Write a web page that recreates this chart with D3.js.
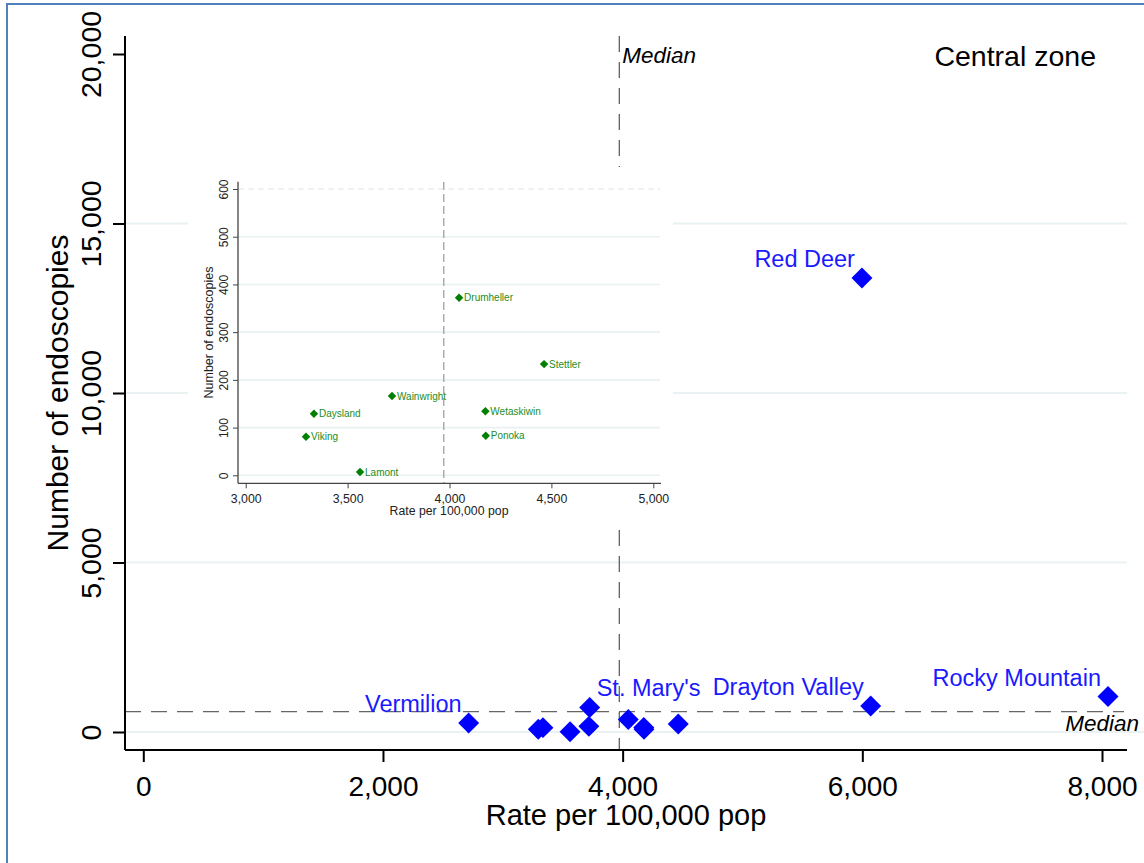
<!DOCTYPE html>
<html>
<head>
<meta charset="utf-8">
<script src="https://cdn.jsdelivr.net/npm/d3@7"></script>
<style>
  html, body { margin: 0; padding: 0; background: #fff; }
  svg { display: block; }
  text { font-family: "Liberation Sans", Arial, sans-serif; }
</style>
</head>
<body>
<svg id="chart" width="1144" height="863"></svg>
<script>
// ---------- data ----------
const places = ["Red Deer", "Rocky Mountain", "Drayton Valley", "St. Mary's", "Vermilion",
                "Drumheller", "Stettler", "Wainwright", "Daysland", "Viking", "Lamont", "Wetaskiwin", "Ponoka"];
const rates  = [5997, 8050, 6070, 3725, 2715, 4047, 4464, 3718, 3335, 3296, 3561, 4176, 4178];
const counts = [13390, 1047, 770, 725, 265, 372, 233, 166, 129, 81, 7, 134, 83];
const mainLabeled = ["Red Deer", "Rocky Mountain", "Drayton Valley", "St. Mary's", "Vermilion"];
const mainLabelSide = ["left", "left", "left", "right", "left"];
const medianRate = 3972;
const medianCount = 600;

const xTicks = [0, 2000, 4000, 6000, 8000];
const yTicks = [0, 5000, 10000, 15000, 20000];
const yGrid = [0, 5000, 10000, 15000];
const insetXTicks = [3000, 3500, 4000, 4500, 5000];
const insetYTicks = [0, 100, 200, 300, 400, 500, 600];
const insetYGrid = [0, 100, 200, 300, 400, 500];

const rows = places.map((p, i) => ({ place: p, rate: rates[i], count: counts[i] }));

const svg = d3.select("#chart");
const fmt = d3.format(",");

// frame (partially visible border)
svg.append("path").attr("d", "M7,863 V4 H1144")
  .attr("fill", "none").attr("stroke", "#4f81bd").attr("stroke-width", 2);

// ---------- main chart ----------
const x = d3.scaleLinear().domain([0, 8000]).range([143.3, 1102]);
const y = d3.scaleLinear().domain([0, 20000]).range([732, 54]);
const axX = 125, axY = 750;

// gridlines
svg.append("g").selectAll("line").data(yGrid).join("line")
  .attr("x1", axX).attr("x2", d => d === 0 ? 1144 : 1127)
  .attr("y1", d => y(d)).attr("y2", d => y(d))
  .attr("stroke", "#e9f1f3").attr("stroke-width", 2.2);

// median lines
svg.append("line").attr("x1", x(medianRate)).attr("x2", x(medianRate))
  .attr("y1", 36).attr("y2", axY)
  .attr("stroke", "#555").attr("stroke-width", 1.2).attr("stroke-dasharray", "16,10");
svg.append("line").attr("x1", axX).attr("x2", 1124)
  .attr("y1", y(medianCount)).attr("y2", y(medianCount))
  .attr("stroke", "#666").attr("stroke-width", 1.2).attr("stroke-dasharray", "16,10");

svg.append("text").attr("x", x(medianRate) + 3).attr("y", 63)
  .attr("font-size", 22.5).attr("font-style", "italic").attr("fill", "#000").text("Median");
svg.append("text").attr("x", 1139).attr("y", 731).attr("text-anchor", "end")
  .attr("font-size", 22.5).attr("font-style", "italic").attr("fill", "#000").text("Median");

svg.append("text").attr("x", 1096).attr("y", 66).attr("text-anchor", "end")
  .attr("font-size", 28.5).attr("fill", "#000").text("Central zone");

// axes
const yAxis = svg.append("g").attr("transform", `translate(${axX},0)`)
  .call(d3.axisLeft(y).tickValues(yTicks).tickSize(12).tickSizeOuter(0).tickFormat(fmt));
yAxis.select(".domain").remove();
yAxis.selectAll(".tick line").attr("stroke", "#000").attr("stroke-width", 2);
yAxis.selectAll(".tick text")
  .attr("transform", "rotate(-90)").attr("x", 0).attr("y", -24).attr("dy", 0)
  .attr("text-anchor", "middle").attr("font-size", 28.5).attr("fill", "#000")
  .attr("font-family", "Liberation Sans, Arial, sans-serif");
svg.append("line").attr("x1", axX).attr("x2", axX).attr("y1", 36).attr("y2", axY)
  .attr("stroke", "#000").attr("stroke-width", 2);

const xAxis = svg.append("g").attr("transform", `translate(0,${axY})`)
  .call(d3.axisBottom(x).tickValues(xTicks).tickSize(12).tickSizeOuter(0).tickFormat(fmt));
xAxis.select(".domain").remove();
xAxis.selectAll(".tick line").attr("stroke", "#000").attr("stroke-width", 2);
xAxis.selectAll(".tick text")
  .attr("y", 46).attr("dy", 0).attr("font-size", 28).attr("fill", "#000")
  .attr("font-family", "Liberation Sans, Arial, sans-serif");
svg.append("line").attr("x1", axX).attr("x2", 1127).attr("y1", axY).attr("y2", axY)
  .attr("stroke", "#000").attr("stroke-width", 2);

svg.append("text").attr("x", 626).attr("y", 825).attr("text-anchor", "middle")
  .attr("font-size", 29).attr("fill", "#000").text("Rate per 100,000 pop");
svg.append("text").attr("transform", "translate(68,393) rotate(-90)").attr("text-anchor", "middle")
  .attr("font-size", 30).attr("fill", "#000").text("Number of endoscopies");

// ---------- inset ----------
const ix = d3.scaleLinear().domain([3000, 5000]).range([245.7, 653.3]);
const iy = d3.scaleLinear().domain([0, 600]).range([475.3, 189]);
const iaxX = 238, iaxY = 483.3;

svg.append("rect").attr("x", 188).attr("y", 167).attr("width", 485).attr("height", 363)
  .attr("fill", "#fff");

svg.append("g").selectAll("line").data(insetYGrid).join("line")
  .attr("x1", iaxX).attr("x2", 660).attr("y1", d => iy(d)).attr("y2", d => iy(d))
  .attr("stroke", "#e9f1f3").attr("stroke-width", 1.6);

svg.append("line").attr("x1", iaxX).attr("x2", 660)
  .attr("y1", iy(medianCount)).attr("y2", iy(medianCount))
  .attr("stroke", "#dfe3e5").attr("stroke-width", 1.2).attr("stroke-dasharray", "6,4");
svg.append("line").attr("x1", ix(medianRate)).attr("x2", ix(medianRate))
  .attr("y1", 182).attr("y2", iaxY)
  .attr("stroke", "#999").attr("stroke-width", 1.2).attr("stroke-dasharray", "8,4");

const iyAxis = svg.append("g").attr("transform", `translate(${iaxX},0)`)
  .call(d3.axisLeft(iy).tickValues(insetYTicks).tickSize(5).tickSizeOuter(0));
iyAxis.select(".domain").remove();
iyAxis.selectAll(".tick line").attr("stroke", "#444");
iyAxis.selectAll(".tick text")
  .attr("transform", "rotate(-90)").attr("x", 0).attr("y", -10).attr("dy", 0)
  .attr("text-anchor", "middle").attr("font-size", 12).attr("fill", "#222")
  .attr("font-family", "Liberation Sans, Arial, sans-serif");
svg.append("line").attr("x1", iaxX).attr("x2", iaxX).attr("y1", 181.7).attr("y2", iaxY)
  .attr("stroke", "#444").attr("stroke-width", 1.3);

const ixAxis = svg.append("g").attr("transform", `translate(0,${iaxY})`)
  .call(d3.axisBottom(ix).tickValues(insetXTicks).tickSize(5).tickSizeOuter(0).tickFormat(fmt));
ixAxis.select(".domain").remove();
ixAxis.selectAll(".tick line").attr("stroke", "#444");
ixAxis.selectAll(".tick text")
  .attr("y", 19.5).attr("dy", 0).attr("font-size", 12.3).attr("fill", "#222")
  .attr("font-family", "Liberation Sans, Arial, sans-serif");
svg.append("line").attr("x1", iaxX).attr("x2", 661).attr("y1", iaxY).attr("y2", iaxY)
  .attr("stroke", "#444").attr("stroke-width", 1.3);

svg.append("text").attr("x", 449).attr("y", 515).attr("text-anchor", "middle")
  .attr("font-size", 12.3).attr("fill", "#222").text("Rate per 100,000 pop");
svg.append("text").attr("transform", "translate(213,332.5) rotate(-90)").attr("text-anchor", "middle")
  .attr("font-size", 12.5).attr("fill", "#222").text("Number of endoscopies");

const insetRows = rows.filter(d => d.rate >= 3000 && d.rate <= 5000 && d.count <= 600);
const smallDiamond = d3.symbol().type(d3.symbolSquare).size(36);
svg.append("g").selectAll("path").data(insetRows).join("path")
  .attr("d", smallDiamond)
  .attr("transform", d => `translate(${ix(d.rate)},${iy(d.count)}) rotate(45)`)
  .attr("fill", "#008000");
svg.append("g").selectAll("text").data(insetRows).join("text")
  .attr("x", d => ix(d.rate) + 5).attr("y", d => iy(d.count) + 3.6)
  .attr("font-size", 10).attr("fill", "#1e8c1e").text(d => d.place);

// ---------- main points ----------
const bigDiamond = d3.symbol().type(d3.symbolSquare).size(220);
svg.append("g").selectAll("path").data(rows).join("path")
  .attr("d", bigDiamond)
  .attr("transform", d => `translate(${x(d.rate)},${y(d.count)}) rotate(45)`)
  .attr("fill", "#0000ff");

const labeled = rows.filter(d => mainLabeled.includes(d.place));
svg.append("g").selectAll("text").data(labeled).join("text")
  .attr("x", d => {
    const side = mainLabelSide[mainLabeled.indexOf(d.place)];
    return x(d.rate) + (side === "left" ? -7 : 7);
  })
  .attr("y", d => y(d.count) - 11)
  .attr("text-anchor", d => mainLabelSide[mainLabeled.indexOf(d.place)] === "left" ? "end" : "start")
  .attr("font-size", 23.5).attr("fill", "#1a1aff").text(d => d.place);
</script>
</body>
</html>
